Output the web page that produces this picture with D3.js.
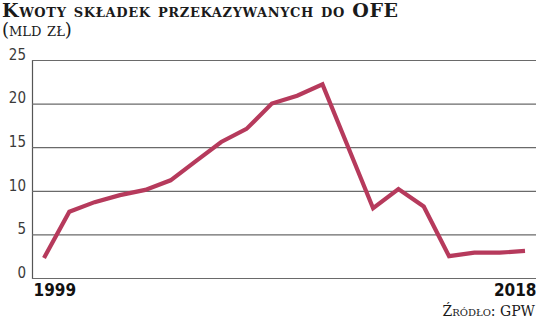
<!DOCTYPE html>
<html>
<head>
<meta charset="utf-8">
<script src="https://cdn.jsdelivr.net/npm/d3@7"></script>
<style>
  body { margin: 0; background: #fff; }
  svg { display: block; }
  .title { font-family: "DejaVu Serif", serif; font-variant: small-caps; fill: #1a1a1a; }
  .tick text { font-family: "Liberation Sans Narrow", "DejaVu Sans Condensed", sans-serif; }
</style>
</head>
<body>
<div id="chart"></div>
<script>
// data
const years = [1999, 2000, 2001, 2002, 2003, 2004, 2005, 2006, 2007, 2008,
  2009, 2010, 2011, 2012, 2013, 2014, 2015, 2016, 2017, 2018];
const amounts = [2.3, 7.6, 8.7, 9.5, 10.1, 11.2, 13.4, 15.6, 17.1, 20.0,
  20.9, 22.2, 15.1, 8.0, 10.2, 8.2, 2.5, 2.9, 2.9, 3.1];
const yTicks = [0, 5, 10, 15, 20, 25];
const xLabels = [1999, 2018];

const width = 536, height = 323;
const plotLeft = 32, plotRight = 536, plotTop = 60, plotBottom = 278;

const svg = d3.select("#chart").append("svg")
  .attr("width", width)
  .attr("height", height);

// title
svg.append("text").attr("class", "title")
  .attr("x", 2).attr("y", 17)
  .attr("font-size", 19)
  .style("font-weight", "bold")
  .attr("textLength", 396)
  .text("Kwoty składek przekazywanych do OFE");
svg.append("text").attr("class", "title")
  .attr("x", 2).attr("y", 36)
  .attr("font-size", 18)
  .style("font-weight", "normal")
  .text("(mld zł)");

const x = d3.scaleLinear().domain([1999, 2018]).range([44, 525]);
const y = d3.scaleLinear().domain([0, 25]).range([plotBottom, plotTop]);

// gridlines + y labels
const yAxis = d3.axisLeft(y).tickValues(yTicks)
  .tickSize(-(plotRight - plotLeft)).tickPadding(6).tickFormat(d3.format("d"));
const gy = svg.append("g").attr("transform", `translate(${plotLeft},0)`).call(yAxis);
gy.select(".domain").attr("stroke", "#555").attr("stroke-width", 1.2);
gy.selectAll(".tick line").attr("stroke", "#6a6a6a").attr("stroke-width", 1.2);
gy.selectAll(".tick text").attr("font-size", 15).attr("fill", "#3a3a3a").attr("dy", "-0.05em");

// x labels, first starts at the axis, last ends at the edge
const xAxis = d3.axisBottom(x).tickValues(xLabels).tickSize(0).tickPadding(6).tickFormat(d3.format("d"));
const gx = svg.append("g").attr("transform", `translate(0,${plotBottom})`).call(xAxis);
gx.select(".domain").remove();
gx.selectAll(".tick text")
  .attr("font-size", 17).attr("fill", "#111").attr("font-weight", "bold")
  .attr("text-anchor", (d, i) => i === 0 ? "start" : "end")
  .attr("x", (d, i) => i === 0 ? plotLeft - x(d) + 1 : width - x(d));

// line
const line = d3.line().x((d, i) => x(years[i])).y(d => y(d));
svg.append("path")
  .datum(amounts)
  .attr("fill", "none")
  .attr("stroke", "#b63a5c")
  .attr("stroke-width", 4.2)
  .attr("stroke-linejoin", "miter")
  .attr("d", line);

// source
svg.append("text").attr("class", "title")
  .attr("x", 535).attr("y", 316)
  .attr("text-anchor", "end")
  .attr("font-size", 14)
  .style("font-weight", "normal")
  .text("Źródło: GPW");
</script>
</body>
</html>
